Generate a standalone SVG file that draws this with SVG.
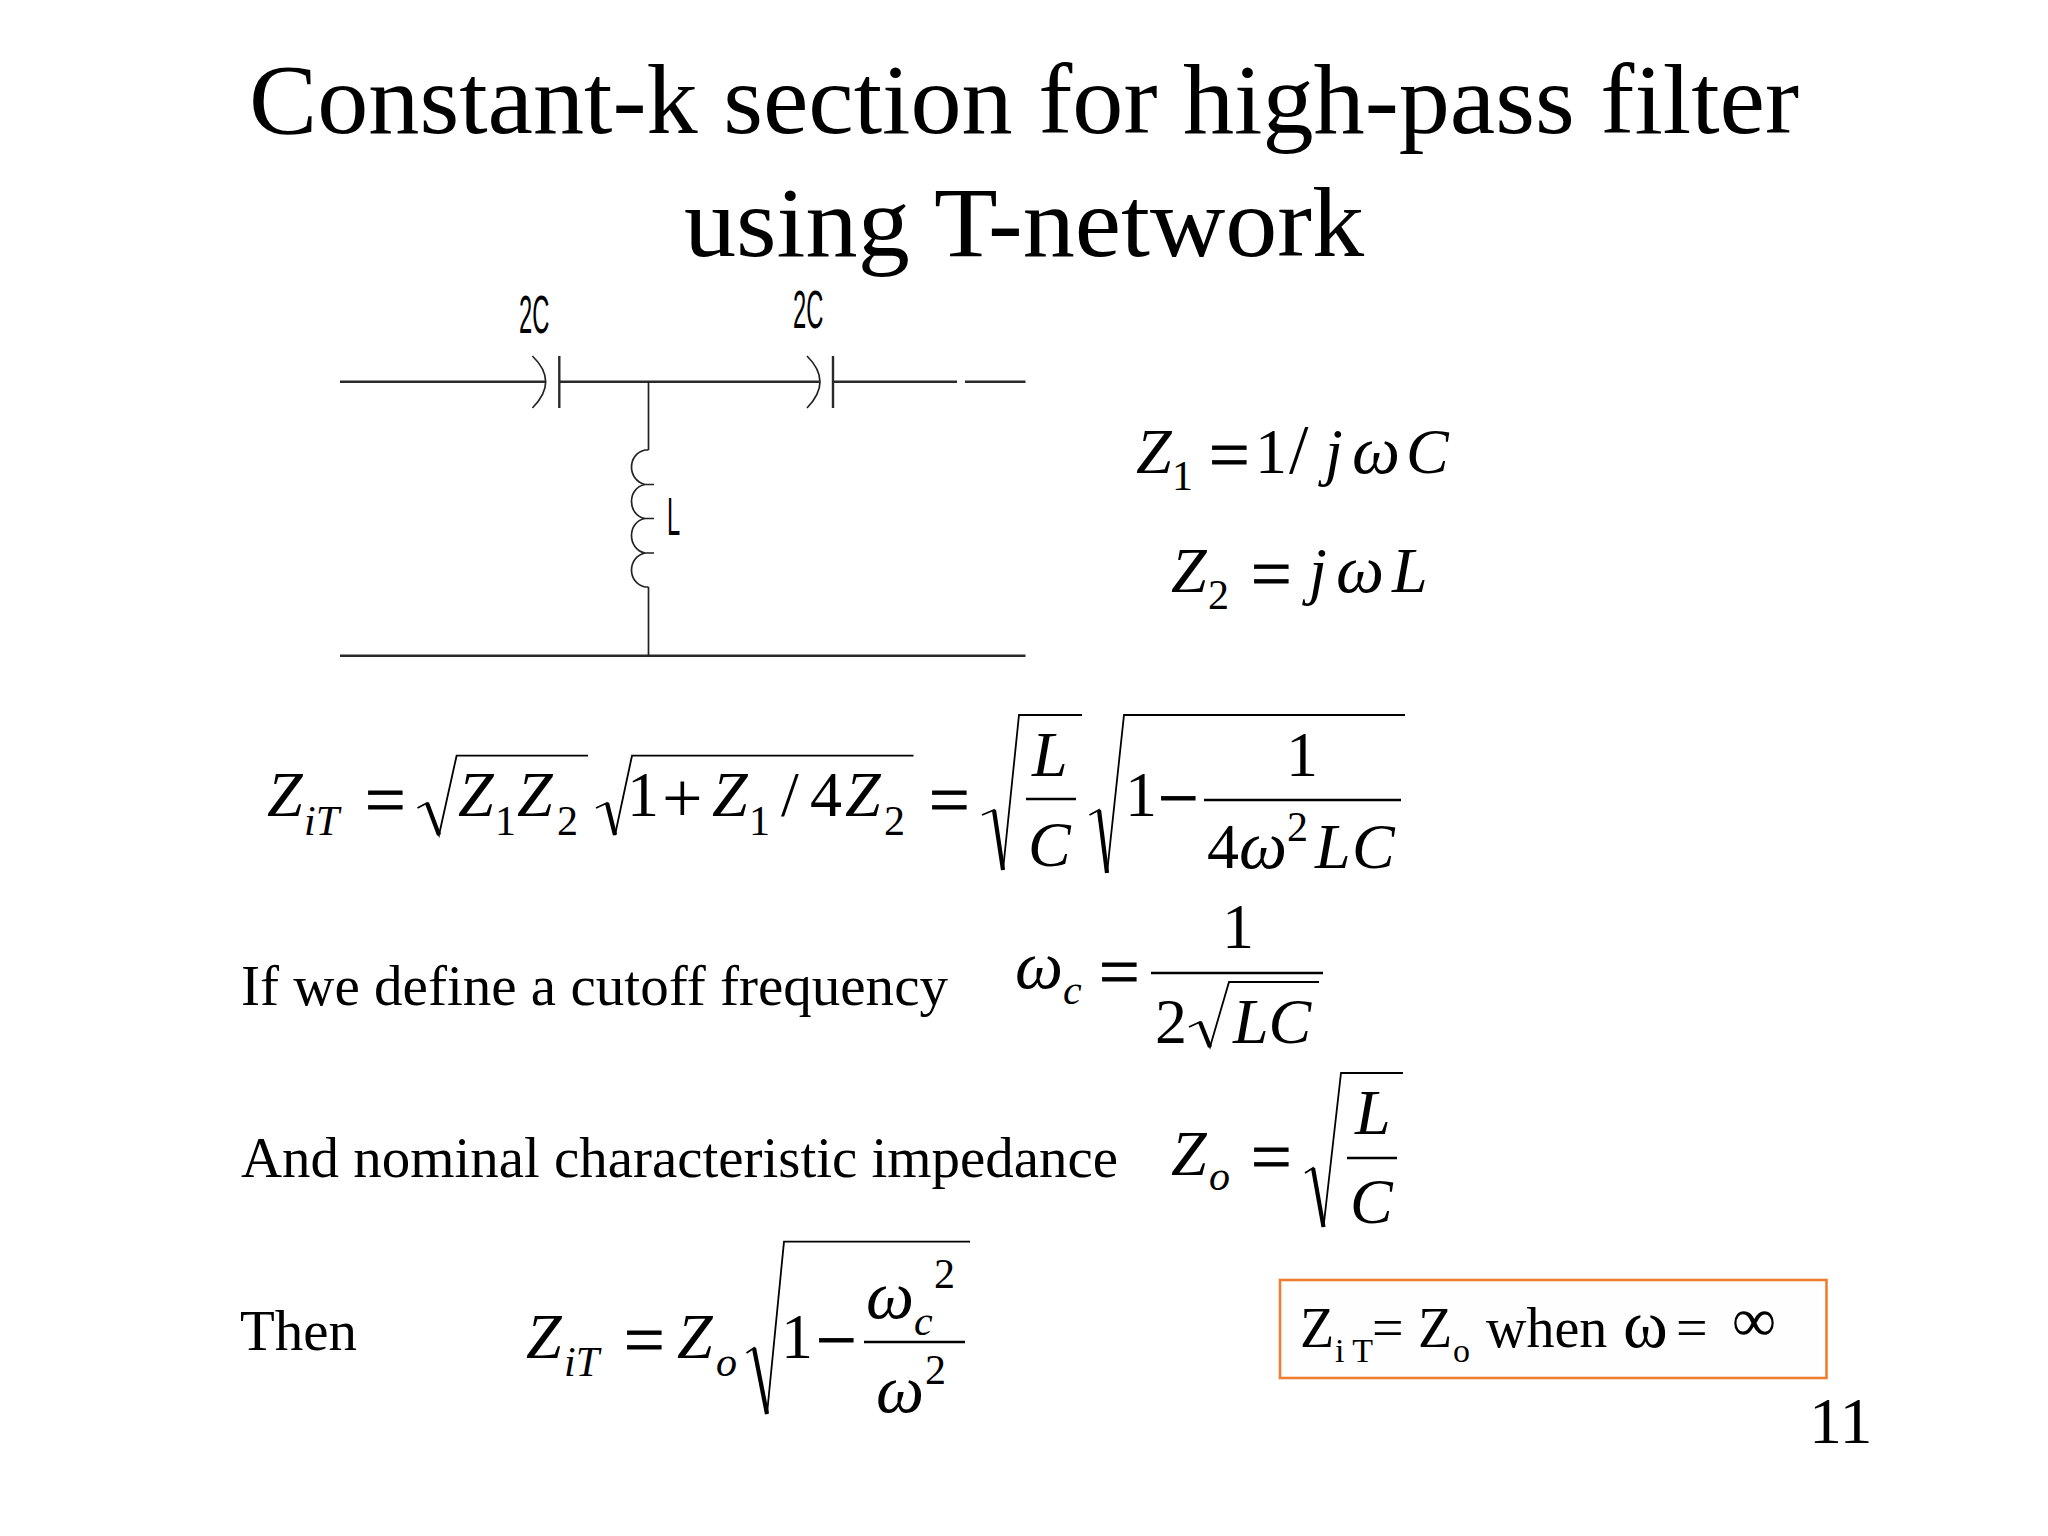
<svg xmlns="http://www.w3.org/2000/svg" width="2048" height="1536" viewBox="0 0 2048 1536">
<style>
text{font-family:"Liberation Serif","Times New Roman",serif;fill:#000}
.title{font-size:100px}
.body{font-size:56px}
.m{font-size:64px}
.o{font-size:68px;font-style:italic}
.s{font-size:42px}
.u{font-style:normal}
.e{font-size:72px}
.h{stroke:#000;stroke-width:.9}
.i{font-style:italic}
.b{font-size:56px}
.bs{font-size:34px}
.cl{font-family:"Liberation Sans",Arial,sans-serif;font-size:54px}
.w{fill:none;stroke:#2a2a2a;stroke-width:2.4}
.w2{fill:none;stroke:#222;stroke-width:1.7}
.r{fill:none;stroke:#000;stroke-width:1.8}
.rh{fill:none;stroke:#000;stroke-width:4.2}
.bar{stroke:#000;stroke-width:2.6}
</style>
<rect width="2048" height="1536" fill="#fff"/>
<g id="title">
<text class="title" x="249" y="133" textLength="1550" lengthAdjust="spacingAndGlyphs">Constant-k section for high-pass filter</text>
<text class="title" x="684" y="256" textLength="680" lengthAdjust="spacingAndGlyphs">using T-network</text>
</g>
<g id="connectors">
<path class="w" d="M340 381.7H545M559.3 381.7H819M833 381.7H957M965 381.7H1025.5M340 655.7H1025.5"/>
<path class="w2" d="M648.5 381.7V450M648.5 587V655.7"/>
</g>
<g id="capacitor-1">
<path class="w2" d="M532.4 356Q559 381.7 532.4 408"/>
<path class="w" d="M559.3 356V408"/>
<text class="cl" transform="translate(519 333) scale(.44 1)">2C</text>
</g>
<g id="capacitor-2">
<path class="w2" d="M807 356Q833 381.7 807 408"/>
<path class="w" d="M833 356V408"/>
<text class="cl" transform="translate(793 328) scale(.44 1)">2C</text>
</g>
<g id="inductor">
<path class="w2" d="M648.5 450H645C627 454 627 480 645 484.5H654M645 484.5C627 488 627 515 645 518.5H654M645 518.5C627 522 627 549 645 553H654M645 553C627 557 627 583 645 587H648.5"/>
<text class="cl" transform="translate(667 535) scale(.44 1)">L</text>
</g>
<g id="z1-eq">
<text class="m i" x="1136" y="473">Z</text><text class="s" x="1172" y="490">1</text>
<text class="e h" x="1209" y="479">=</text><text class="m" x="1255" y="473">1</text><text class="m" x="1289" y="473" style="font-size:70px">/</text>
<text class="m i" x="1325" y="473">j</text><text class="o" x="1352" y="473">ω</text><text class="m i" x="1406" y="473">C</text>
</g>
<g id="z2-eq">
<text class="m i" x="1171" y="592">Z</text><text class="s" x="1208" y="609">2</text>
<text class="e h" x="1251" y="598">=</text>
<text class="m i" x="1309" y="592">j</text><text class="o" x="1336" y="592">ω</text><text class="m i" x="1392" y="592">L</text>
</g>
<g id="zit-eq">
<text class="m i" x="267" y="816">Z</text><text class="s i" x="304" y="835">iT</text>
<text class="e h" x="365" y="824">=</text>
<path class="r" d="M417.5 808L427 803L439 835L456.6 755.7H588"/><path class="rh" d="M427 803L439 835"/>
<text class="m i" x="458" y="816">Z</text><text class="s" x="495" y="835">1</text><text class="m i" x="517" y="816">Z</text><text class="s" x="557" y="835">2</text>
<path class="r" d="M596 808L607 803L615 835L632 755.7H913.5"/><path class="rh" d="M607 803L615 835"/>
<text class="m" x="627" y="816">1</text><text class="e" x="662" y="822">+</text><text class="m i" x="712" y="816">Z</text><text class="s" x="749" y="835">1</text>
<text class="m" x="781" y="816">/</text><text class="m" x="810" y="816">4</text><text class="m i" x="845" y="816">Z</text><text class="s" x="884" y="835">2</text>
<text class="e h" x="929" y="824">=</text>
<path class="r" d="M982 815L994 810L1003 870L1019 715H1082"/><path class="rh" d="M994 810L1003 870"/>
<text class="m i" x="1032" y="776">L</text><line class="bar" x1="1026" y1="799" x2="1076" y2="799"/><text class="m i" x="1028" y="866">C</text>
<path class="r" d="M1089.5 815L1099 810L1107 873L1124 715H1405"/><path class="rh" d="M1099 810L1107 873"/>
<text class="m" x="1125" y="816">1</text><text class="e h" x="1158" y="822">−</text>
<text class="m" x="1286" y="776">1</text><line class="bar" x1="1204" y1="800" x2="1401" y2="800"/>
<text class="m" x="1207" y="868">4</text><text class="o" x="1239" y="868">ω</text><text class="s" x="1287" y="841">2</text><text class="m i" x="1315" y="868">L</text><text class="m i" x="1352" y="868">C</text>
</g>
<g id="cutoff">
<text class="body" x="241" y="1005" textLength="707" lengthAdjust="spacingAndGlyphs">If we define a cutoff frequency</text>
<text class="o" x="1015" y="988">ω</text><text class="s i" x="1063" y="1004">c</text>
<text class="e h" x="1099" y="996">=</text>
<text class="m" x="1222" y="948">1</text><line class="bar" x1="1151" y1="973" x2="1323" y2="973"/>
<text class="m" x="1155" y="1043">2</text>
<path class="r" d="M1189 1027L1200 1022L1210 1047L1229 982H1319"/><path class="rh" d="M1200 1022L1210 1047"/>
<text class="m i" x="1233" y="1043">LC</text>
</g>
<g id="impedance">
<text class="body" x="241" y="1177" textLength="877" lengthAdjust="spacingAndGlyphs">And nominal characteristic impedance</text>
<text class="m i" x="1171" y="1175">Z</text><text class="s i" x="1209" y="1190">o</text>
<text class="e h" x="1251" y="1181">=</text>
<path class="r" d="M1305 1173L1313 1168L1323.5 1227L1341 1073H1403"/><path class="rh" d="M1313 1168L1323.5 1227"/>
<text class="m i" x="1355" y="1134">L</text><line class="bar" x1="1347" y1="1158" x2="1397" y2="1158"/><text class="m i" x="1350" y="1223">C</text>
</g>
<g id="then">
<text class="body" x="240" y="1350" textLength="117" lengthAdjust="spacingAndGlyphs">Then</text>
<text class="m i" x="526" y="1358">Z</text><text class="s i" x="564" y="1376">iT</text>
<text class="e h" x="624" y="1364">=</text>
<text class="m i" x="677" y="1358">Z</text><text class="s i" x="716" y="1376">o</text>
<path class="r" d="M746.5 1353L754 1348L767 1414L784 1241.6H970"/><path class="rh" d="M754 1348L767 1414"/>
<text class="m" x="781" y="1358">1</text><text class="e h" x="816" y="1364">−</text>
<text class="o" x="866" y="1318">ω</text><text class="s i" x="914" y="1335">c</text><text class="s" x="934" y="1288">2</text>
<line class="bar" x1="864" y1="1342" x2="965" y2="1342"/>
<text class="o" x="876" y="1412">ω</text><text class="s" x="925" y="1384">2</text>
</g>
<g id="result-box">
<rect x="1280" y="1280" width="546.5" height="98" fill="#fefefe" stroke="#ed7d31" stroke-width="2.6"/>
<text class="b" x="1300" y="1347">Z</text><text class="bs" x="1335" y="1362" xml:space="preserve">i T</text>
<text class="b" x="1372" y="1347">=</text><text class="b" x="1418" y="1347">Z</text><text class="bs" x="1453" y="1362">o</text>
<text class="b" x="1486" y="1347">when</text><text x="1623" y="1347" style="font-size:68px">ω</text><text class="b" x="1676" y="1347">=</text>
<text x="1732" y="1341" style="font-size:62px">∞</text>
</g>
<g id="page-number"><text style="font-size:66px" x="1809" y="1443">11</text></g>
</svg>
